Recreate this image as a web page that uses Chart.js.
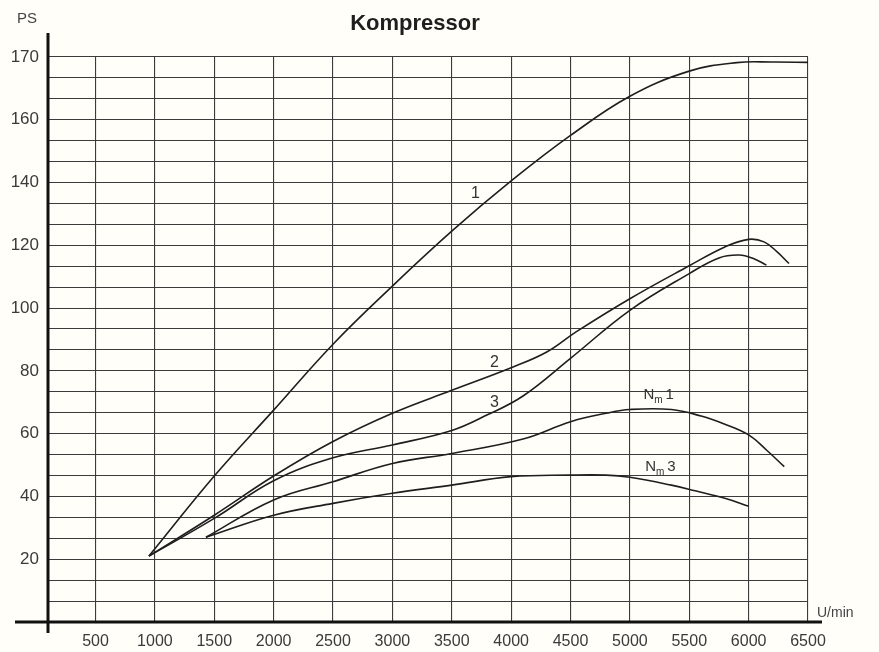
<!DOCTYPE html>
<html lang="de">
<head>
    <meta charset="UTF-8">
    <title>Kompressor</title>
    <script src="https://cdn.jsdelivr.net/npm/chart.js"></script>
    <style>
        body { margin: 0; background: #fffef9; }
        #wrap { width: 879px; height: 652px; position: relative; }
    </style>
</head>
<body>
<div id="wrap"><canvas id="chart"></canvas></div>
<script>
    // curve 1
    const rpm1 = [950, 1500, 2000, 2500, 3000, 3500, 4000, 4500, 5000, 5500, 5900, 6200, 6500];
    const ps1 = [21, 46.5, 67.5, 88.5, 107, 124.5, 140.5, 155, 167.5, 175.5, 178.2, 178.4, 178.3];
    // curve 2
    const rpm2 = [950, 1500, 2000, 2500, 3000, 3500, 4000, 4300, 4550, 5000, 5500, 5800, 6000, 6130, 6240, 6340];
    const ps2 = [21, 34, 46.5, 57.5, 66.5, 73.8, 81, 86, 92.5, 103, 113.5, 119.5, 121.9, 121.1, 117.9, 114.2];
    // curve 3
    const rpm3 = [950, 1500, 2000, 2500, 3000, 3500, 3800, 4100, 4500, 5000, 5500, 5750, 5920, 6040, 6150];
    const ps3 = [21, 33, 45, 52.3, 56.4, 61, 66, 72, 84, 99.3, 111, 116, 116.9, 115.8, 113.7];
    // N_m 1
    const rpmN1 = [1430, 2000, 2500, 3000, 3500, 4100, 4500, 4800, 5000, 5350, 5600, 5800, 6000, 6150, 6300];
    const psN1 = [27, 38.9, 44.7, 50.5, 53.7, 58.3, 63.8, 66.5, 67.7, 67.7, 65.6, 63, 59.6, 54.8, 49.5];
    // N_m 3
    const rpmN3 = [1430, 2000, 2500, 3000, 3500, 4000, 4500, 4800, 5000, 5350, 5550, 5800, 6000];
    const psN3 = [27, 34, 37.8, 41, 43.6, 46.3, 46.8, 46.8, 46.1, 43.6, 41.8, 39.4, 36.9];

    const xTickValues = [500, 1000, 1500, 2000, 2500, 3000, 3500, 4000, 4500, 5000, 5500, 6000, 6500];
    const xTickLabels = ['500', '1000', '1500', '2000', '2500', '3000', '3500', '4000', '4500', '5000', '5500', '6000', '6500'];
    const yTickValues = [20, 40, 60, 80, 100, 120, 140, 160, 180];
    const yTickLabels = ['20', '40', '60', '80', '100', '120', '140', '160', '170'];

    const pts = (xs, ys) => xs.map((x, i) => ({x: x, y: ys[i]}));
    const ink = '#1e1e1e';
    const gridInk = '#3b3b3b';
    const labelFont = '"Liberation Sans", Arial, sans-serif';

    function curve(data) {
        return {
            type: 'line',
            data: data,
            borderColor: ink,
            borderWidth: 1.6,
            pointRadius: 0,
            fill: false,
            tension: 0.4
        }
    }

    // text next to the curves, placed in data units
    const curveLabels = [
        {text: '1', sub: '', rpm: 3700, ps: 136.5},
        {text: '2', sub: '', rpm: 3860, ps: 82.6},
        {text: '3', sub: '', rpm: 3860, ps: 69.8},
        {text: 'N', sub: 'm', tail: '1', rpm: 5240, ps: 72.3},
        {text: 'N', sub: 'm', tail: '3', rpm: 5255, ps: 49.4}
    ];

    const decor = {
        id: 'decor',
        afterDraw(chart) {
            const ctx = chart.ctx;
            const a = chart.chartArea;
            const xs = chart.scales.x, ys = chart.scales.y;
            ctx.save();
            // heavy axes
            ctx.strokeStyle = '#111';
            ctx.lineWidth = 3;
            ctx.beginPath();
            ctx.moveTo(a.left, 33);
            ctx.lineTo(a.left, 633);
            ctx.moveTo(15, a.bottom);
            ctx.lineTo(822, a.bottom);
            ctx.stroke();

            ctx.fillStyle = ink;
            ctx.font = 'bold 22px ' + labelFont;
            ctx.textAlign = 'center';
            ctx.textBaseline = 'middle';
            ctx.fillText('Kompressor', 415, 24);

            ctx.fillStyle = '#444';
            ctx.font = '15px ' + labelFont;
            ctx.fillText('PS', 27, 19);
            ctx.textAlign = 'left';
            ctx.font = '14px ' + labelFont;
            ctx.fillText('U/min', 817, 613);

            curveLabels.forEach(l => {
                const px = xs.getPixelForValue(l.rpm);
                const py = ys.getPixelForValue(l.ps);
                ctx.fillStyle = '#333';
                if (!l.sub) {
                    ctx.font = '16px ' + labelFont;
                    ctx.textAlign = 'center';
                    ctx.fillText(l.text, px, py);
                    return;
                }
                ctx.textAlign = 'left';
                ctx.font = '15px ' + labelFont;
                let x0 = px - 15;
                ctx.fillText(l.text, x0, py);
                x0 += ctx.measureText(l.text).width;
                ctx.font = '10px ' + labelFont;
                ctx.fillText(l.sub, x0, py + 5);
                x0 += ctx.measureText(l.sub).width + 3;
                ctx.font = '15px ' + labelFont;
                ctx.fillText(l.tail, x0, py);
            });
            ctx.restore();
        }
    };

    new Chart(document.getElementById('chart'), {
        data: {
            datasets: [
                curve(pts(rpm1, ps1)),
                curve(pts(rpm2, ps2)),
                curve(pts(rpm3, ps3)),
                curve(pts(rpmN1, psN1)),
                curve(pts(rpmN3, psN3))
            ]
        },
        options: {
            responsive: true,
            maintainAspectRatio: false,
            animation: false,
            layout: {padding: {top: 57, right: 71, left: 0, bottom: 0}},
            plugins: {
                legend: {display: false},
                title: {display: false},
                tooltip: {enabled: false}
            },
            scales: {
                x: {
                    type: 'linear',
                    min: 100,
                    max: 6500,
                    afterBuildTicks(scale) {
                        scale.ticks = xTickValues.map(v => ({value: v}));
                    },
                    afterFit(scale) {
                        scale.height = 30;
                    },
                    ticks: {
                        autoSkip: false,
                        maxRotation: 0,
                        padding: 10,
                        color: '#3a3a3a',
                        font: {family: labelFont, size: 16},
                        callback: (v) => {
                            const i = xTickValues.indexOf(v);
                            return i < 0 ? '' : xTickLabels[i];
                        }
                    },
                    grid: {color: gridInk, lineWidth: 1.1, drawTicks: false},
                    border: {display: false}
                },
                y: {
                    type: 'linear',
                    min: 0,
                    max: 180,
                    afterBuildTicks(scale) {
                        const t = [];
                        for (let i = 0; i <= 27; i++) t.push({value: i * 20 / 3});
                        scale.ticks = t;
                    },
                    afterFit(scale) {
                        scale.width = 48;
                    },
                    ticks: {
                        autoSkip: false,
                        padding: 9,
                        color: '#3a3a3a',
                        font: {family: labelFont, size: 17},
                        callback: (v) => {
                            const i = yTickValues.findIndex(t => Math.abs(t - v) < 0.01);
                            return i < 0 ? '' : yTickLabels[i];
                        }
                    },
                    grid: {color: gridInk, lineWidth: 1.1, drawTicks: false},
                    border: {display: false}
                }
            }
        },
        plugins: [decor]
    });
</script>
</body>
</html>
